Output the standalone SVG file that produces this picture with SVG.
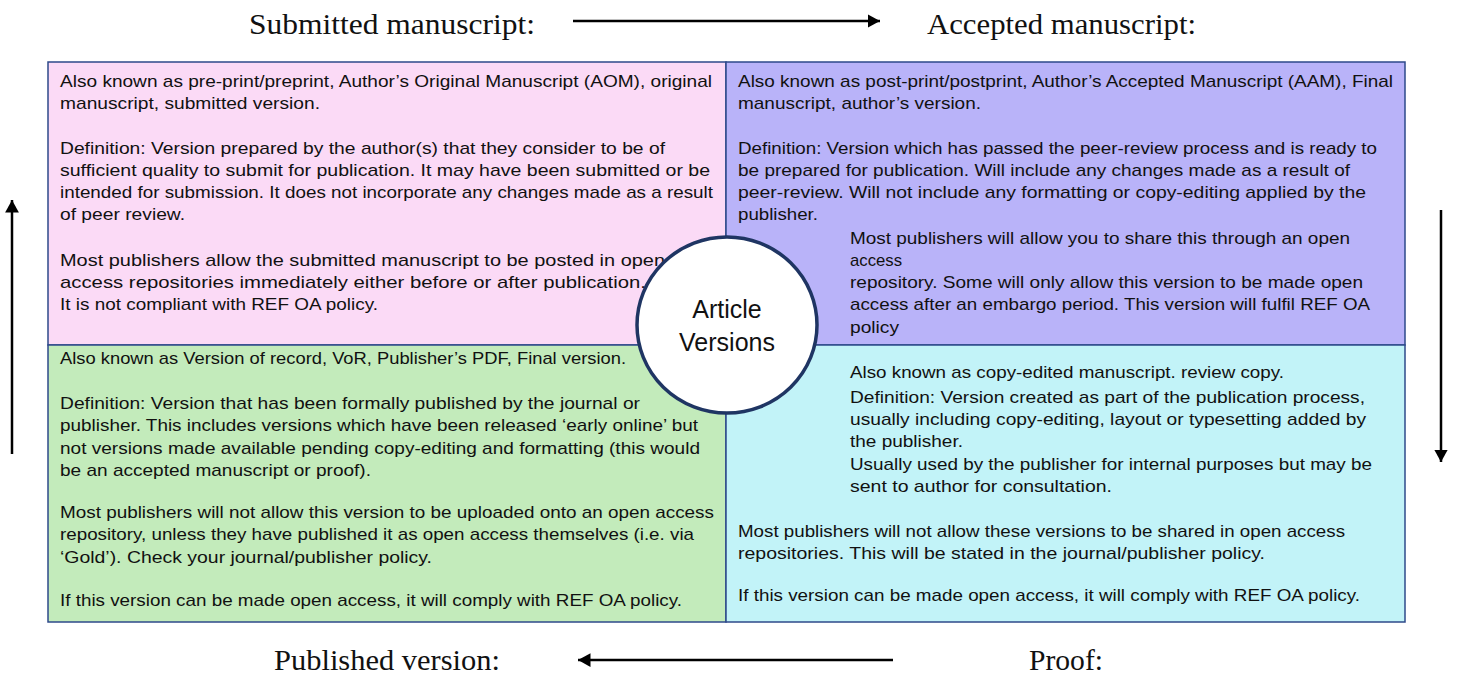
<svg xmlns="http://www.w3.org/2000/svg" width="1459" height="675" viewBox="0 0 1459 675">
<style>
.box{stroke:#2E4A8A;stroke-width:1.5}
.t{font-family:"Liberation Sans",Arial,sans-serif;font-size:17px;fill:#111}
.h{font-family:"Liberation Serif","Times New Roman",serif;font-size:29px;fill:#111}
.c{font-family:"Liberation Sans",Arial,sans-serif;font-size:25px;fill:#111;text-anchor:middle}
.ar{stroke:#000;stroke-width:2.5;fill:none}
</style>
<defs>
<marker id="ah" viewBox="0 0 10 11" refX="10" refY="5.5" markerWidth="5" markerHeight="5.5" orient="auto" markerUnits="strokeWidth">
<path d="M0,0 L10,5.5 L0,11 Z" fill="#000"/>
</marker>
</defs>
<rect width="1459" height="675" fill="#fff"/>

<g id="submitted">
<rect class="box" x="48" y="62" width="678" height="283" fill="#FBDAF6"/>
<text class="t" x="60" y="87" textLength="652" lengthAdjust="spacingAndGlyphs">Also known as pre-print/preprint, Author’s Original Manuscript (AOM), original</text>
<text class="t" x="60" y="109" textLength="260" lengthAdjust="spacingAndGlyphs">manuscript, submitted version.</text>
<text class="t" x="60" y="154" textLength="605" lengthAdjust="spacingAndGlyphs">Definition: Version prepared by the author(s) that they consider to be of</text>
<text class="t" x="60" y="176" textLength="650" lengthAdjust="spacingAndGlyphs">sufficient quality to submit for publication. It may have been submitted or be</text>
<text class="t" x="60" y="198" textLength="653" lengthAdjust="spacingAndGlyphs">intended for submission. It does not incorporate any changes made as a result</text>
<text class="t" x="60" y="220" textLength="125" lengthAdjust="spacingAndGlyphs">of peer review.</text>
<text class="t" x="60" y="266" textLength="605" lengthAdjust="spacingAndGlyphs">Most publishers allow the submitted manuscript to be posted in open</text>
<text class="t" x="60" y="288" textLength="586" lengthAdjust="spacingAndGlyphs">access repositories immediately either before or after publication.</text>
<text class="t" x="60" y="310" textLength="318" lengthAdjust="spacingAndGlyphs">It is not compliant with REF OA policy.</text>
</g>

<g id="accepted">
<rect class="box" x="726" y="62" width="679" height="283" fill="#B9B3F9"/>
<text class="t" x="738" y="87" textLength="655" lengthAdjust="spacingAndGlyphs">Also known as post-print/postprint, Author’s Accepted Manuscript (AAM), Final</text>
<text class="t" x="738" y="109" textLength="243" lengthAdjust="spacingAndGlyphs">manuscript, author’s version.</text>
<text class="t" x="738" y="154" textLength="639" lengthAdjust="spacingAndGlyphs">Definition: Version which has passed the peer-review process and is ready to</text>
<text class="t" x="738" y="176" textLength="612" lengthAdjust="spacingAndGlyphs">be prepared for publication. Will include any changes made as a result of</text>
<text class="t" x="738" y="198" textLength="628" lengthAdjust="spacingAndGlyphs">peer-review. Will not include any formatting or copy-editing applied by the</text>
<text class="t" x="738" y="220" textLength="80" lengthAdjust="spacingAndGlyphs">publisher.</text>
<text class="t" x="850" y="244" textLength="500" lengthAdjust="spacingAndGlyphs">Most publishers will allow you to share this through an open</text>
<text class="t" x="850" y="266" textLength="52" lengthAdjust="spacingAndGlyphs">access</text>
<text class="t" x="850" y="288" textLength="513" lengthAdjust="spacingAndGlyphs">repository. Some will only allow this version to be made open</text>
<text class="t" x="850" y="310" textLength="520" lengthAdjust="spacingAndGlyphs">access after an embargo period. This version will fulfil REF OA</text>
<text class="t" x="850" y="333" textLength="49" lengthAdjust="spacingAndGlyphs">policy</text>
</g>

<g id="published">
<rect class="box" x="48" y="345" width="678" height="277" fill="#C3EBBB"/>
<text class="t" x="60" y="364" textLength="566" lengthAdjust="spacingAndGlyphs">Also known as Version of record, VoR, Publisher’s PDF, Final version.</text>
<text class="t" x="60" y="409" textLength="580" lengthAdjust="spacingAndGlyphs">Definition: Version that has been formally published by the journal or</text>
<text class="t" x="60" y="431" textLength="638" lengthAdjust="spacingAndGlyphs">publisher. This includes versions which have been released ‘early online’ but</text>
<text class="t" x="60" y="454" textLength="640" lengthAdjust="spacingAndGlyphs">not versions made available pending copy-editing and formatting (this would</text>
<text class="t" x="60" y="476" textLength="311" lengthAdjust="spacingAndGlyphs">be an accepted manuscript or proof).</text>
<text class="t" x="60" y="518" textLength="654" lengthAdjust="spacingAndGlyphs">Most publishers will not allow this version to be uploaded onto an open access</text>
<text class="t" x="60" y="540" textLength="634" lengthAdjust="spacingAndGlyphs">repository, unless they have published it as open access themselves (i.e. via</text>
<text class="t" x="60" y="563" textLength="372" lengthAdjust="spacingAndGlyphs">‘Gold’). Check your journal/publisher policy.</text>
<text class="t" x="60" y="606" textLength="622" lengthAdjust="spacingAndGlyphs">If this version can be made open access, it will comply with REF OA policy.</text>
</g>

<g id="proof">
<rect class="box" x="726" y="345" width="679" height="277" fill="#C2F3F8"/>
<text class="t" x="850" y="378" textLength="434" lengthAdjust="spacingAndGlyphs">Also known as copy-edited manuscript. review copy.</text>
<text class="t" x="850" y="403" textLength="515" lengthAdjust="spacingAndGlyphs">Definition: Version created as part of the publication process,</text>
<text class="t" x="850" y="425" textLength="516" lengthAdjust="spacingAndGlyphs">usually including copy-editing, layout or typesetting added by</text>
<text class="t" x="850" y="447" textLength="113" lengthAdjust="spacingAndGlyphs">the publisher.</text>
<text class="t" x="850" y="470" textLength="522" lengthAdjust="spacingAndGlyphs">Usually used by the publisher for internal purposes but may be</text>
<text class="t" x="850" y="492" textLength="262" lengthAdjust="spacingAndGlyphs">sent to author for consultation.</text>
<text class="t" x="738" y="537" textLength="607" lengthAdjust="spacingAndGlyphs">Most publishers will not allow these versions to be shared in open access</text>
<text class="t" x="738" y="559" textLength="527" lengthAdjust="spacingAndGlyphs">repositories. This will be stated in the journal/publisher policy.</text>
<text class="t" x="738" y="601" textLength="622" lengthAdjust="spacingAndGlyphs">If this version can be made open access, it will comply with REF OA policy.</text>
</g>

<g id="center">
<ellipse cx="727" cy="325" rx="90" ry="88" fill="#fff" stroke="#1F3563" stroke-width="3.5"/>
<text class="c" x="727" y="318">Article</text>
<text class="c" x="727" y="351">Versions</text>
</g>

<g id="labels">
<text class="h" x="249" y="34" textLength="286" lengthAdjust="spacingAndGlyphs">Submitted manuscript:</text>
<text class="h" x="927" y="34" textLength="269" lengthAdjust="spacingAndGlyphs">Accepted manuscript:</text>
<text class="h" x="274" y="670" textLength="226" lengthAdjust="spacingAndGlyphs">Published version:</text>
<text class="h" x="1029" y="670" textLength="74" lengthAdjust="spacingAndGlyphs">Proof:</text>
</g>

<g id="connectors">
<line class="ar" x1="573" y1="21" x2="880" y2="21" marker-end="url(#ah)"/>
<line class="ar" x1="1441" y1="210" x2="1441" y2="462" marker-end="url(#ah)"/>
<line class="ar" x1="893" y1="660" x2="578" y2="660" marker-end="url(#ah)"/>
<line class="ar" x1="12" y1="454" x2="12" y2="200" marker-end="url(#ah)"/>
</g>
</svg>
